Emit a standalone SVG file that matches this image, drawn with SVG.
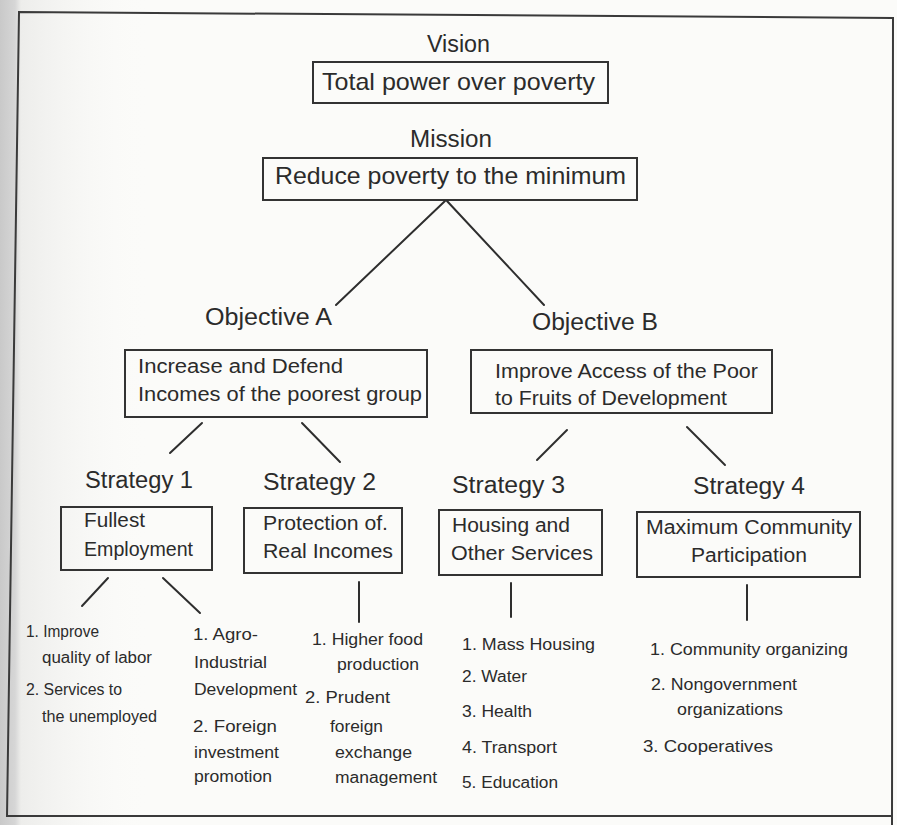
<svg xmlns="http://www.w3.org/2000/svg" width="897" height="825" viewBox="0 0 897 825">
<defs>
<linearGradient id="edge" x1="0" y1="0" x2="1" y2="0">
<stop offset="0" stop-color="#c9c9c9"/>
<stop offset="0.1" stop-color="#d6d6d6"/>
<stop offset="0.14" stop-color="#ededeb"/>
<stop offset="1" stop-color="#fbfbf9" stop-opacity="0"/>
</linearGradient>
<style>
text{font-family:"Liberation Sans",Arial,Helvetica,sans-serif;fill:#2b2b2b}
.lbl{font-size:23px}
.bx{font-size:24px}
.bt{font-size:20px}
.li{font-size:16px}
.box{fill:none;stroke:#333;stroke-width:2}
.c line{stroke:#2e2e2e;stroke-width:2;stroke-linecap:round}
</style>
</defs>
<rect width="897" height="825" fill="#fbfbf9"/>
<rect x="0" y="0" width="150" height="825" fill="url(#edge)"/>
<polygon points="19,12 893,18 892,825 892,825 892,816 7,816" fill="none" stroke="#3a3a3a" stroke-width="2"/>

<g id="vision">
<text class="lbl" x="427" y="52" textLength="63" lengthAdjust="spacingAndGlyphs">Vision</text>
<rect class="box" x="313" y="62" width="295" height="41"/>
<text class="bx" x="322" y="90" textLength="273" lengthAdjust="spacingAndGlyphs">Total power over poverty</text>
</g>

<g id="mission">
<text class="lbl" x="410" y="147" textLength="82" lengthAdjust="spacingAndGlyphs">Mission</text>
<rect class="box" x="263" y="158" width="374" height="42"/>
<text class="bx" x="275" y="184" textLength="351" lengthAdjust="spacingAndGlyphs">Reduce poverty to the minimum</text>
</g>

<g id="objectiveA">
<text class="lbl" x="205" y="325" textLength="127" lengthAdjust="spacingAndGlyphs">Objective A</text>
<rect class="box" x="125" y="350" width="302" height="67"/>
<text class="bt" x="138" y="373" textLength="205" lengthAdjust="spacingAndGlyphs">Increase  and Defend</text>
<text class="bt" x="138" y="401" textLength="284" lengthAdjust="spacingAndGlyphs">Incomes of  the poorest group</text>
</g>

<g id="objectiveB">
<text class="lbl" x="532" y="330" textLength="126" lengthAdjust="spacingAndGlyphs">Objective B</text>
<rect class="box" x="471" y="350" width="301" height="63"/>
<text class="bt" x="495" y="378" textLength="263" lengthAdjust="spacingAndGlyphs">Improve Access of the Poor</text>
<text class="bt" x="495" y="405" textLength="232" lengthAdjust="spacingAndGlyphs">to Fruits of Development</text>
</g>

<g id="strategy1">
<text class="lbl" x="85" y="488" textLength="108" lengthAdjust="spacingAndGlyphs">Strategy 1</text>
<rect class="box" x="61" y="507" width="151" height="63"/>
<text class="bt" x="84" y="527" textLength="61" lengthAdjust="spacingAndGlyphs">Fullest</text>
<text class="bt" x="84" y="556" textLength="109" lengthAdjust="spacingAndGlyphs">Employment</text>
</g>

<g id="strategy2">
<text class="lbl" x="263" y="490" textLength="113" lengthAdjust="spacingAndGlyphs">Strategy 2</text>
<rect class="box" x="244" y="508" width="158" height="65"/>
<text class="bt" x="263" y="530" textLength="125" lengthAdjust="spacingAndGlyphs">Protection of.</text>
<text class="bt" x="263" y="558" textLength="130" lengthAdjust="spacingAndGlyphs">Real Incomes</text>
</g>

<g id="strategy3">
<text class="lbl" x="452" y="493" textLength="113" lengthAdjust="spacingAndGlyphs">Strategy 3</text>
<rect class="box" x="439" y="510" width="163" height="65"/>
<text class="bt" x="452" y="532" textLength="118" lengthAdjust="spacingAndGlyphs">Housing and</text>
<text class="bt" x="451" y="560" textLength="142" lengthAdjust="spacingAndGlyphs">Other Services</text>
</g>

<g id="strategy4">
<text class="lbl" x="693" y="494" textLength="112" lengthAdjust="spacingAndGlyphs">Strategy 4</text>
<rect class="box" x="637" y="512" width="223" height="65"/>
<text class="bt" x="646" y="534" textLength="206" lengthAdjust="spacingAndGlyphs">Maximum Community</text>
<text class="bt" x="691" y="562" textLength="116" lengthAdjust="spacingAndGlyphs">Participation</text>
</g>

<g id="list1a">
<text class="li" x="26" y="637" textLength="73" lengthAdjust="spacingAndGlyphs">1. Improve</text>
<text class="li" x="42" y="663" textLength="110" lengthAdjust="spacingAndGlyphs">quality of labor</text>
<text class="li" x="26" y="695" textLength="96" lengthAdjust="spacingAndGlyphs">2. Services to</text>
<text class="li" x="42" y="722" textLength="115" lengthAdjust="spacingAndGlyphs">the unemployed</text>
</g>

<g id="list1b">
<text class="li" x="193" y="640" textLength="65" lengthAdjust="spacingAndGlyphs">1. Agro-</text>
<text class="li" x="194" y="668" textLength="73" lengthAdjust="spacingAndGlyphs">Industrial</text>
<text class="li" x="194" y="695" textLength="103" lengthAdjust="spacingAndGlyphs">Development</text>
<text class="li" x="193" y="732" textLength="84" lengthAdjust="spacingAndGlyphs">2. Foreign</text>
<text class="li" x="194" y="758" textLength="85" lengthAdjust="spacingAndGlyphs">investment</text>
<text class="li" x="194" y="782" textLength="78" lengthAdjust="spacingAndGlyphs">promotion</text>
</g>

<g id="list2">
<text class="li" x="312" y="645" textLength="111" lengthAdjust="spacingAndGlyphs">1. Higher food</text>
<text class="li" x="337" y="670" textLength="82" lengthAdjust="spacingAndGlyphs">production</text>
<text class="li" x="305" y="703" textLength="85" lengthAdjust="spacingAndGlyphs">2. Prudent</text>
<text class="li" x="330" y="732" textLength="53" lengthAdjust="spacingAndGlyphs">foreign</text>
<text class="li" x="335" y="758" textLength="77" lengthAdjust="spacingAndGlyphs">exchange</text>
<text class="li" x="335" y="783" textLength="102" lengthAdjust="spacingAndGlyphs">management</text>
</g>

<g id="list3">
<text class="li" x="462" y="650" textLength="133" lengthAdjust="spacingAndGlyphs">1. Mass Housing</text>
<text class="li" x="462" y="682" textLength="65" lengthAdjust="spacingAndGlyphs">2. Water</text>
<text class="li" x="462" y="717" textLength="70" lengthAdjust="spacingAndGlyphs">3. Health</text>
<text class="li" x="462" y="753" textLength="95" lengthAdjust="spacingAndGlyphs">4. Transport</text>
<text class="li" x="462" y="788" textLength="96" lengthAdjust="spacingAndGlyphs">5. Education</text>
</g>

<g id="list4">
<text class="li" x="650" y="655" textLength="198" lengthAdjust="spacingAndGlyphs">1. Community organizing</text>
<text class="li" x="651" y="690" textLength="146" lengthAdjust="spacingAndGlyphs">2. Nongovernment</text>
<text class="li" x="677" y="715" textLength="106" lengthAdjust="spacingAndGlyphs">organizations</text>
<text class="li" x="643" y="752" textLength="130" lengthAdjust="spacingAndGlyphs">3. Cooperatives</text>
</g>

<g id="connectors" class="c">
<line x1="445" y1="201" x2="336" y2="305"/>
<line x1="447" y1="201" x2="544" y2="305"/>
<line x1="202" y1="423" x2="170" y2="453"/>
<line x1="302" y1="423" x2="340" y2="462"/>
<line x1="567" y1="430" x2="537" y2="460"/>
<line x1="687" y1="427" x2="725" y2="465"/>
<line x1="108" y1="578" x2="82" y2="606"/>
<line x1="163" y1="578" x2="200" y2="613"/>
<line x1="359" y1="582" x2="359" y2="622"/>
<line x1="511" y1="583" x2="511" y2="617"/>
<line x1="747" y1="585" x2="747" y2="620"/>
</g>
</svg>
